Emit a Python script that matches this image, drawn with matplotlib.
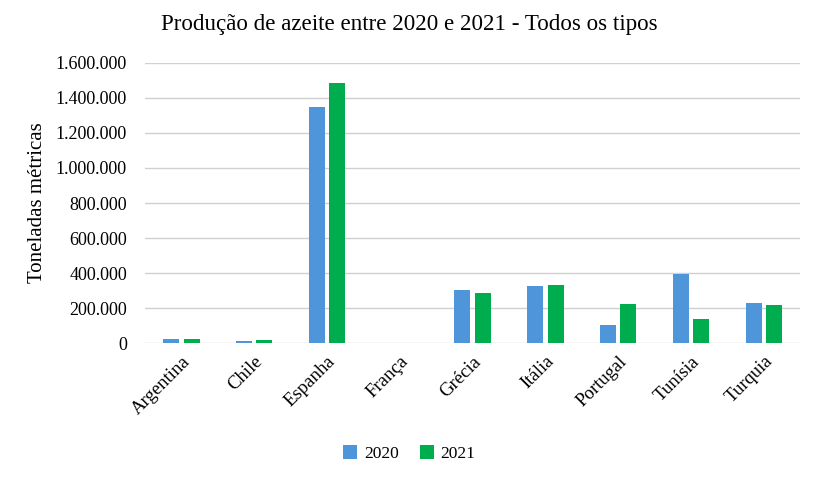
import matplotlib.pyplot as plt
import numpy as np

paises = ['Argentina', 'Chile', 'Espanha', 'França', 'Grécia', 'Itália',
          'Portugal', 'Tunísia', 'Turquia']
prod_2020 = [25000, 14000, 1350000, 0, 303000, 328000, 105000, 393000, 227000]
prod_2021 = [25000, 19000, 1487000, 0, 288000, 331000, 223000, 137000, 219000]

plt.rcParams['font.family'] = ['Liberation Serif', 'DejaVu Serif']

fig = plt.figure(figsize=(8.19, 4.8), dpi=100)
ax = fig.add_axes([0.177, 0.285, 0.8, 0.584])

x = np.arange(len(paises))
w = 0.22
ax.bar(x - 0.14, prod_2020, w, color='#4E95D9', label='2020', zorder=3)
ax.bar(x + 0.14, prod_2021, w, color='#00AD4E', label='2021', zorder=3)

ax.set_xlim(-0.5, len(paises) - 0.5)
ax.set_ylim(0, 1600000)
ax.set_yticks(np.arange(0, 1600001, 200000))
ax.set_yticklabels([f"{v:,}".replace(',', '.') for v in range(0, 1600001, 200000)],
                   fontsize=13)
ax.set_xticks(x)
ax.set_xticklabels(paises, rotation=45, ha='right', rotation_mode='anchor', fontsize=13.5)
ax.tick_params(axis='y', length=0, pad=13)
ax.tick_params(axis='x', length=0, pad=7)

ax.grid(axis='y', color='#D0D0D0', linewidth=1, zorder=0)
for s in ax.spines.values():
    s.set_visible(False)

ax.set_ylabel("Toneladas métricas", fontsize=15, labelpad=6)
fig.suptitle("Produção de azeite entre 2020 e 2021 - Todos os tipos",
             fontsize=16.6, x=0.5, y=0.97)

fig.legend(loc='center', bbox_to_anchor=(0.5, 0.055), ncol=2, frameon=False,
           fontsize=12.5, handlelength=0.8, handleheight=0.8, columnspacing=1.2,
           handletextpad=0.4)

fig.savefig("out.png", dpi=100)
